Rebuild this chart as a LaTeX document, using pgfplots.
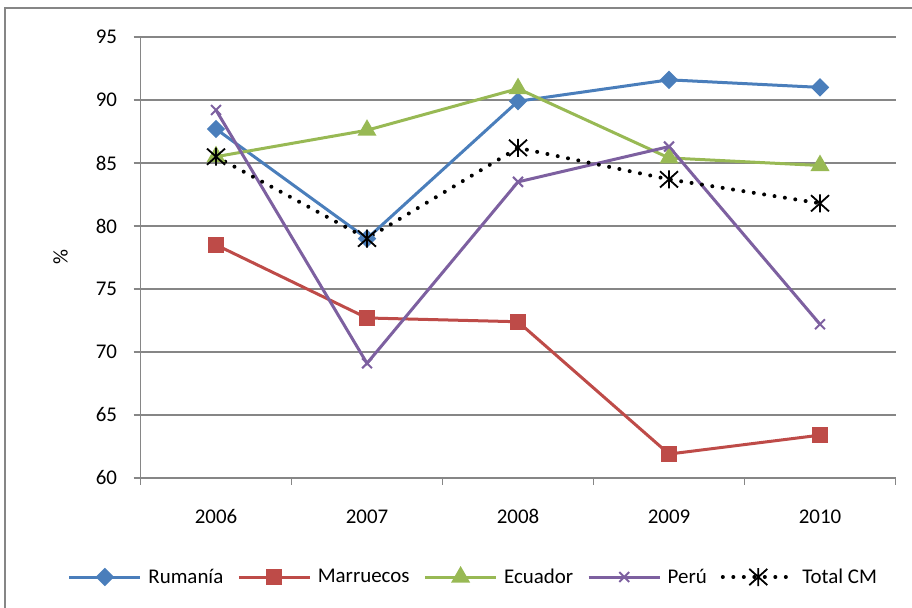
\documentclass[border=0pt]{standalone}
\usepackage{pgfplots}
\pgfplotsset{compat=1.18}
\usepackage{fontspec}
\setmainfont{Carlito}
\definecolor{exblue}{HTML}{4A7EBB}
\definecolor{exred}{HTML}{BE4B48}
\definecolor{exgreen}{HTML}{98B954}
\definecolor{expurple}{HTML}{7D60A0}
\definecolor{gridgray}{HTML}{868686}
\pgfdeclareplotmark{exast}{%
 \pgfpathmoveto{\pgfqpoint{0pt}{\pgfplotmarksize}}\pgfpathlineto{\pgfqpoint{0pt}{-\pgfplotmarksize}}%
 \pgfpathmoveto{\pgfqpoint{-\pgfplotmarksize}{-0.9\pgfplotmarksize}}\pgfpathlineto{\pgfqpoint{\pgfplotmarksize}{0.9\pgfplotmarksize}}%
 \pgfpathmoveto{\pgfqpoint{-\pgfplotmarksize}{0.9\pgfplotmarksize}}\pgfpathlineto{\pgfqpoint{\pgfplotmarksize}{-0.9\pgfplotmarksize}}%
 \pgfusepathqstroke}
\begin{document}
\begin{tikzpicture}[x=1bp,y=1bp]
\useasboundingbox (0,0) rectangle (912,608);
\draw[gridgray, line width=1.5bp] (5,0) -- (5,600) -- (912,600);
\begin{axis}[
 at={(140.5bp,130bp)}, anchor=south west,
 scale only axis, width=755bp, height=441bp,
 xmin=-0.5, xmax=4.5, ymin=60, ymax=95,
 clip=false,
 axis x line*=bottom, axis y line*=left,
 axis line style={gridgray, line width=1.5bp, -},
 xtick={0,...,4}, xticklabels={2006,2007,2008,2009,2010},
 minor xtick={-0.5,0.5,1.5,2.5,3.5,4.5},
 ytick={60,65,...,95},
 ymajorgrids, grid style={gridgray, line width=1.5bp},
 tick align=outside,
 major tick length=7bp, minor tick length=7bp,
 tick style={gridgray, line width=1.5bp},
 major x tick style={draw=none},
 /pgf/number format/assume math mode=true,
 ticklabel style={font=\fontsize{21}{24}\selectfont},
 yticklabel style={xshift=-13bp},
 xticklabel style={yshift=-21bp},
 ylabel={\%},
 every axis y label/.style={at={(axis description cs:0,0.5)}, xshift=-80bp, rotate=90, anchor=center, font=\fontsize{21}{24}\selectfont},
 legend columns=5,
 legend style={at={(axis description cs:0.4417,-0.2245)}, anchor=center, draw=none, fill=none,
   font=\fontsize{21}{24}\selectfont,
   /tikz/every even column/.append style={column sep=11bp},
   /tikz/every odd column/.append style={column sep=3.5bp},
   nodes={inner sep=3bp}},
 legend image code/.code={\draw[mark repeat=2,mark phase=2,#1] plot coordinates {(0bp,0bp) (35.5bp,0bp) (71bp,0bp)};},
]
\addplot[exblue, line width=3bp, mark=square*, mark size=5bp, mark options={rotate=45, solid}]
 coordinates {(0,87.7) (1,79.0) (2,89.9) (3,91.6) (4,91.0)};
\addlegendentry{Rumanía}
\addplot[exred, line width=3bp, mark=square*, mark size=6.5bp, mark options={solid}]
 coordinates {(0,78.5) (1,72.7) (2,72.4) (3,61.9) (4,63.4)};
\addlegendentry{Marruecos}
\addplot[exgreen, line width=3bp, mark=triangle*, mark size=8bp, mark options={solid}]
 coordinates {(0,85.5) (1,87.6) (2,90.9) (3,85.4) (4,84.8)};
\addlegendentry{Ecuador}
\addplot[expurple, line width=3bp, mark=x, mark size=7bp, mark options={solid, line width=2bp}]
 coordinates {(0,89.2) (1,69.1) (2,83.5) (3,86.3) (4,72.2)};
\addlegendentry{Perú}
\addplot[black, line width=4bp, dash pattern=on 0pt off 10.5bp, line cap=round, mark=exast, mark size=9bp, mark options={solid, line width=1.8bp, line cap=butt}]
 coordinates {(0,85.5) (1,79.0) (2,86.2) (3,83.7) (4,81.8)};
\addlegendentry{Total CM}
\end{axis}
\end{tikzpicture}
\end{document}
